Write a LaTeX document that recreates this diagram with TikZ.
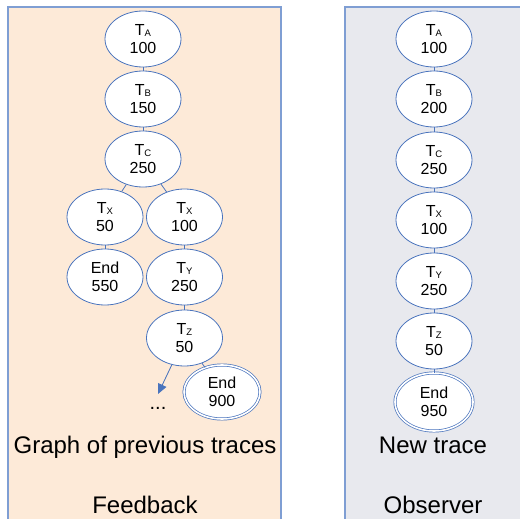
\documentclass[tikz,border=0pt]{standalone}
\usepackage{fontspec}
\setmainfont{Liberation Sans}
\usetikzlibrary{shapes.geometric,arrows.meta}
\definecolor{panelline}{HTML}{7F9ED3}
\definecolor{peach}{HTML}{FDEAD8}
\definecolor{greyblue}{HTML}{E8E9EE}
\definecolor{nodeline}{HTML}{4A74BD}
\newcommand{\tsub}[1]{T{\fontsize{9.5}{10}\selectfont\raisebox{-0.6pt}{#1}}}
\tikzset{
  panel/.style={draw=panelline, line width=1.3pt},
  trace/.style={ellipse, draw=nodeline, fill=white, line width=0.8pt,
    minimum width=76pt, minimum height=56pt, inner sep=0pt, align=center,
    font=\fontsize{16}{18}\selectfont},
  endtrace/.style={trace, double=white, double distance=1.6pt, line width=0.7pt,
    minimum width=76pt, minimum height=54pt},
  link/.style={draw=nodeline, line width=0.8pt},
  caption/.style={font=\fontsize{24}{26}\selectfont, inner sep=0pt, anchor=base}
}
\begin{document}
\begin{tikzpicture}[x=1pt, y=-1pt]
\useasboundingbox (0,0) rectangle (520,519);
\begin{scope}
  \clip (0,0) rectangle (520,519);
  \fill[white] (0,0) rectangle (520,519);
  \draw[panel, fill=peach] (8,7) rectangle (281,540);
  \draw[panel, fill=greyblue] (345,7) rectangle (540,540);
\end{scope}

% Graph of previous traces
\node[trace] (a)  at (143,39)  {\tsub{A}\\100};
\node[trace] (b)  at (143,99)  {\tsub{B}\\150};
\node[trace] (c)  at (143,159) {\tsub{C}\\250};
\node[trace] (x1) at (105,217) {\tsub{X}\\50};
\node[trace] (x2) at (184.5,217) {\tsub{X}\\100};
\node[trace] (e1) at (105,277) {End\\550};
\node[trace] (y)  at (184.5,277) {\tsub{Y}\\250};
\node[trace] (z)  at (184.5,338) {\tsub{Z}\\50};
\node[endtrace] (e2) at (222,392) {End\\900};
\coordinate (more) at (158,394);
\node[font=\fontsize{20}{22}\selectfont, inner sep=0pt, anchor=base] (dots) at (158,409) {...};

\draw[link] (a) -- (b);
\draw[link] (b) -- (c);
\draw[link] (c) -- (x1);
\draw[link] (c) -- (x2);
\draw[link] (x1) -- (e1);
\draw[link] (x2) -- (y);
\draw[link] (y) -- (z);
\draw[link] (z) -- (e2);
\draw[link, -{Triangle[length=10pt, width=9pt]}, fill=nodeline] (z) -- (more);

\node[caption] (g) at (145,453) {Graph of previous traces};
\node[caption] (fb) at (145,513) {Feedback};

% New trace
\node[trace] (na) at (434,39)  {\tsub{A}\\100};
\node[trace] (nb) at (434,99)  {\tsub{B}\\200};
\node[trace] (nc) at (434,160) {\tsub{C}\\250};
\node[trace] (nx) at (434,220) {\tsub{X}\\100};
\node[trace] (ny) at (434,281) {\tsub{Y}\\250};
\node[trace] (nz) at (434,341) {\tsub{Z}\\50};
\node[endtrace, minimum width=78pt, minimum height=58pt] (ne) at (434,402) {End\\950};

\draw[link] (na) -- (nb);
\draw[link] (nb) -- (nc);
\draw[link] (nc) -- (nx);
\draw[link] (nx) -- (ny);
\draw[link] (ny) -- (nz);
\draw[link] (nz) -- (ne);

\node[caption] (nt) at (433,453) {New trace};
\node[caption] (ob) at (433,513) {Observer};
\end{tikzpicture}
\end{document}
